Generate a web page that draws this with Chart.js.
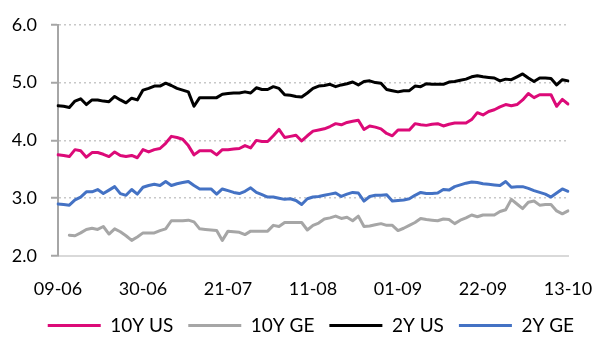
<!DOCTYPE html>
<html>
<head>
<meta charset="utf-8">
<script src="https://cdn.jsdelivr.net/npm/chart.js@4/dist/chart.umd.min.js"></script>
<style>
  html, body { margin: 0; padding: 0; background: #fff; }
  #wrap { width: 594px; height: 338px; position: relative; }
</style>
</head>
<body>
<div id="wrap"><canvas id="c"></canvas></div>
<script>
// Trading days, 9 June to 13 October (dd-mm)
const days = [
  '09-06','12-06','13-06','14-06','15-06','16-06','19-06','20-06','21-06','22-06','23-06',
  '26-06','27-06','28-06','29-06','30-06',
  '03-07','04-07','05-07','06-07','07-07','10-07','11-07','12-07','13-07','14-07',
  '17-07','18-07','19-07','20-07','21-07','24-07','25-07','26-07','27-07','28-07','31-07',
  '01-08','02-08','03-08','04-08','07-08','08-08','09-08','10-08','11-08',
  '14-08','15-08','16-08','17-08','18-08','21-08','22-08','23-08','24-08','25-08',
  '28-08','29-08','30-08','31-08','01-09',
  '04-09','05-09','06-09','07-09','08-09','11-09','12-09','13-09','14-09','15-09',
  '18-09','19-09','20-09','21-09','22-09','25-09','26-09','27-09','28-09','29-09',
  '02-10','03-10','04-10','05-10','06-10','09-10','10-10','11-10','12-10','13-10'
];

// Dates that carry an axis label
const tickDays = ['09-06','30-06','21-07','11-08','01-09','22-09','13-10'];

// Yields, %
const us10y = [
  3.75,3.74,3.72,3.84,3.82,3.71,3.79,3.79,3.76,3.72,3.80,3.74,3.72,3.74,3.70,3.84,
  3.80,3.84,3.86,3.95,4.07,4.05,4.02,3.91,3.75,3.82,3.82,3.82,3.75,3.84,3.84,
  3.85,3.86,3.91,3.87,4.00,3.98,3.98,4.08,4.19,4.05,4.07,4.09,3.99,4.08,4.16,
  4.18,4.20,4.24,4.29,4.27,4.31,4.33,4.35,4.19,4.25,4.23,4.20,4.12,4.08,4.18,
  4.18,4.18,4.29,4.27,4.26,4.28,4.29,4.25,4.28,4.30,4.30,4.30,4.36,4.48,4.44,
  4.50,4.53,4.58,4.62,4.60,4.62,4.70,4.81,4.74,4.79,4.79,4.79,4.59,4.71,4.63
];

const ge10y = [
  null,null,2.36,2.35,2.40,2.46,2.48,2.46,2.51,2.38,2.47,2.42,2.35,2.27,2.33,2.40,
  2.40,2.40,2.44,2.47,2.61,2.61,2.61,2.62,2.59,2.47,2.46,2.45,2.44,2.27,2.43,
  2.42,2.41,2.37,2.43,2.43,2.43,2.43,2.53,2.51,2.58,2.58,2.58,2.58,2.45,2.53,
  2.57,2.64,2.66,2.69,2.65,2.67,2.61,2.69,2.51,2.52,2.54,2.56,2.53,2.53,2.44,
  2.48,2.53,2.58,2.65,2.63,2.62,2.61,2.64,2.63,2.56,2.62,2.66,2.71,2.68,2.71,
  2.71,2.71,2.77,2.80,2.98,2.90,2.82,2.93,2.95,2.88,2.89,2.89,2.78,2.73,2.78
];

const us2y = [
  4.60,4.59,4.57,4.68,4.72,4.62,4.70,4.70,4.68,4.67,4.76,4.70,4.65,4.73,4.70,4.87,
  4.90,4.94,4.94,4.99,4.95,4.90,4.87,4.84,4.59,4.74,4.74,4.74,4.74,4.80,4.81,
  4.82,4.82,4.84,4.82,4.91,4.88,4.88,4.93,4.90,4.79,4.78,4.76,4.75,4.82,4.90,
  4.94,4.95,4.97,4.93,4.96,4.98,5.01,4.96,5.02,5.03,5.00,4.99,4.88,4.86,4.84,
  4.86,4.86,4.94,4.93,4.98,4.97,4.97,4.97,5.01,5.02,5.04,5.06,5.10,5.12,5.10,
  5.09,5.08,5.03,5.06,5.05,5.10,5.15,5.08,5.02,5.08,5.08,5.07,4.96,5.05,5.03
];

const ge2y = [
  2.90,2.89,2.88,2.97,3.02,3.11,3.11,3.15,3.08,3.14,3.20,3.08,3.05,3.15,3.07,3.19,
  3.22,3.24,3.22,3.29,3.22,3.25,3.27,3.29,3.22,3.16,3.16,3.16,3.07,3.16,3.13,
  3.10,3.08,3.12,3.18,3.10,3.06,3.02,3.02,3.00,2.98,2.99,2.96,2.89,2.99,3.02,
  3.03,3.05,3.07,3.09,3.03,3.07,3.10,3.09,2.95,3.03,3.05,3.05,3.06,2.95,2.96,
  2.97,2.99,3.05,3.10,3.08,3.08,3.09,3.15,3.14,3.20,3.23,3.26,3.28,3.27,3.25,
  3.24,3.23,3.22,3.29,3.19,3.20,3.20,3.17,3.13,3.10,3.07,3.02,3.09,3.16,3.12
];

const yTicks = [2, 3, 4, 5, 6];

const FONT = 'Lato, "Open Sans", sans-serif';

function series(label, data, color) {
  return {
    label, data,
    borderColor: color,
    backgroundColor: color,
    borderWidth: 3,
    pointRadius: 0,
    pointHoverRadius: 0,
    tension: 0,
    borderJoinStyle: 'round',
    borderCapStyle: 'round',
    spanGaps: false
  };
}

new Chart(document.getElementById('c'), {
  type: 'line',
  data: {
    labels: days,
    datasets: [
      series('10Y US', us10y, '#DC0A78'),
      series('10Y GE', ge10y, '#A6A6A6'),
      series('2Y US', us2y, '#000000'),
      series('2Y GE', ge2y, '#4472C4')
    ]
  },
  options: {
    responsive: true,
    maintainAspectRatio: false,
    animation: false,
    devicePixelRatio: 1,
    layout: { padding: { left: 0, right: 5, top: 14, bottom: 0 } },
    plugins: {
      tooltip: { enabled: false },
      legend: {
        position: 'bottom',
        align: 'end',
        maxHeight: 37,
        labels: {
          color: '#000',
          font: { family: FONT, size: 19 },
          boxWidth: 53,
          boxHeight: 3,
          padding: 15,
          generateLabels(chart) {
            return Chart.defaults.plugins.legend.labels.generateLabels(chart).map(l => {
              l.fillStyle = l.strokeStyle;
              l.lineWidth = 0;
              return l;
            });
          }
        }
      }
    },
    scales: {
      x: {
        type: 'category',
        offset: false,
        afterFit(scale) { scale.height = 45; scale.paddingRight = 26; },
        grid: { display: false, drawTicks: false },
        border: { display: true, color: '#D9D9D9', width: 2 },
        ticks: {
          autoSkip: false,
          maxRotation: 0,
          minRotation: 0,
          padding: 22,
          color: '#000',
          font: { family: FONT, size: 18 },
          callback(value, index) {
            const d = days[index];
            return tickDays.includes(d) ? d : null;
          }
        }
      },
      y: {
        min: 2,
        max: 6,
        afterFit(scale) { scale.width = 58; },
        afterBuildTicks(scale) { scale.ticks = yTicks.map(v => ({ value: v })); },
        grid: {
          color: '#C8C8C8',
          lineWidth: 1.5,
          drawTicks: true,
          tickLength: 7,
          tickColor: '#A6A6A6',
          tickWidth: 2,
          tickBorderDash: []
        },
        border: { display: true, color: '#A6A6A6', width: 2, dash: [2, 3] },
        ticks: {
          padding: 14,
          color: '#000',
          font: { family: FONT, size: 18 },
          callback(v) { return Number(v).toFixed(1); }
        }
      }
    }
  }
});
</script>
</body>
</html>
